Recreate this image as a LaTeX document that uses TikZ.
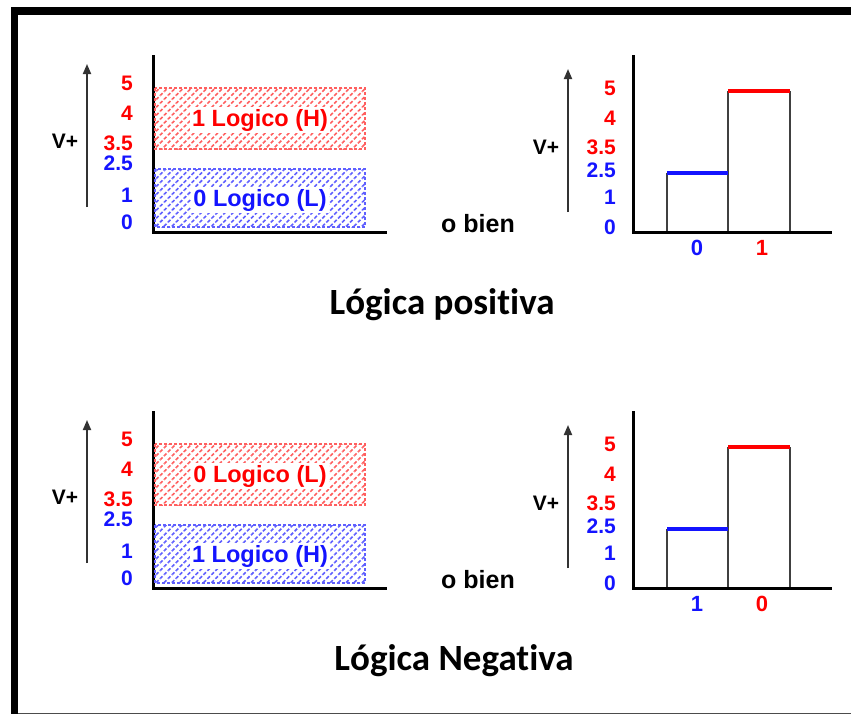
\documentclass[tikz,border=0pt]{standalone}
\usepackage{fontspec}
\setmainfont{Liberation Sans}
\newfontfamily\titlefont[Ligatures={NoCommon,NoRequired,NoContextual}]{Carlito}
\usetikzlibrary{patterns.meta,arrows.meta}
\definecolor{myred}{RGB}{255,0,0}
\definecolor{myblue}{RGB}{20,20,255}
\definecolor{hred}{RGB}{255,95,95}
\definecolor{hblue}{RGB}{95,95,255}
\tikzset{
  num/.style={anchor=east,font=\fontsize{21}{21}\selectfont\bfseries,inner sep=0pt},
  vlab/.style={font=\fontsize{21}{21}\selectfont\bfseries,inner sep=0pt},
  varrow/.style={line width=1.8pt,draw=black!80,-{Triangle[length=10pt,width=8pt]}},
  axis/.style={line width=3pt,draw=black},
  hatchred/.style={pattern={Lines[angle=45,distance=5.6pt,line width=1.6pt]},pattern color=hred,draw=hred,line width=1.3pt,dash pattern=on 3pt off 2pt},
  hatchblue/.style={pattern={Lines[angle=45,distance=5.6pt,line width=1.6pt]},pattern color=hblue,draw=hblue,line width=1.3pt,dash pattern=on 3pt off 2pt},
  boxlab/.style={fill=white,inner sep=2pt,font=\fontsize{23.5}{23.5}\selectfont\bfseries},
  bar/.style={line width=2pt,draw=black!75},
  lvl/.style={line width=4.5pt},
  obien/.style={font=\fontsize{25}{25}\selectfont\bfseries,inner sep=0pt},
  blab/.style={font=\fontsize{22}{22}\selectfont\bfseries,inner sep=0pt},
  title/.style={font=\titlefont\fontsize{37}{37}\selectfont\bfseries,inner sep=0pt}
}
\newcommand{\panel}[6]{%
  % #1 top box text, #2 bottom box text, #3 left bar label, #4 right bar label, #5 title, #6 title x
  \coordinate (la0) at (87,207); \coordinate (la1) at (87,64);
  \draw[varrow] (la0) -- (la1);
  \node[vlab] (lv) at (65,141) {V+};
  \node[num,text=myred] (l5) at (133,83) {5};
  \node[num,text=myred] (l4) at (133,113) {4};
  \node[num,text=myred] (l35) at (133,143) {3.5};
  \node[num,text=myblue] (l25) at (133,163) {2.5};
  \node[num,text=myblue] (l1) at (133,195) {1};
  \node[num,text=myblue] (l0) at (133,222) {0};
  \coordinate (lax0) at (153,55); \coordinate (lax1) at (153,232); \coordinate (lax2) at (387,232);
  \draw[axis] (lax0) -- (lax1) -- (lax2);
  \draw[hatchred] (155,88) rectangle (365,149);
  \draw[hatchblue] (155,169) rectangle (365,227);
  \node[boxlab,text=myred] (ltop) at (260,120) {#1};
  \node[boxlab,text=myblue] (lbot) at (260,200) {#2};
  \node[obien] (ob) at (478,224) {o bien};
  \coordinate (ra0) at (568,212); \coordinate (ra1) at (568,69);
  \draw[varrow] (ra0) -- (ra1);
  \node[vlab] (rv) at (546,147) {V+};
  \node[num,text=myred] (r5) at (616,88) {5};
  \node[num,text=myred] (r4) at (616,118) {4};
  \node[num,text=myred] (r35) at (616,147) {3.5};
  \node[num,text=myblue] (r25) at (616,170) {2.5};
  \node[num,text=myblue] (r1) at (616,197) {1};
  \node[num,text=myblue] (r0) at (616,227) {0};
  \coordinate (b1) at (667,232); \coordinate (b2) at (667,173); \coordinate (b3) at (728,173);
  \coordinate (b4) at (728,232); \coordinate (b5) at (728,91); \coordinate (b6) at (790,91);
  \coordinate (b7) at (790,232);
  \draw[bar] (b1) -- (b2) (b3) -- (b4) (b3) -- (b5) (b6) -- (b7);
  \draw[lvl,myblue] (b2) -- (b3);
  \draw[lvl,myred] (b5) -- (b6);
  \coordinate (rax0) at (633,55); \coordinate (rax1) at (633,232); \coordinate (rax2) at (832,232);
  \draw[axis] (rax0) -- (rax1) -- (rax2);
  \node[blab] (bl) at (697,248) {#3};
  \node[blab] (br) at (762,248) {#4};
  \node[title] (tt) at (#6,305) {#5};
}
\begin{document}
\begin{tikzpicture}[x=1pt,y=-1pt]
  \useasboundingbox (0,0) rectangle (851,715);
  \fill[white] (0,0) rectangle (851,715);
  \fill[black] (11,7) rectangle (851,15);
  \fill[black] (11,7) rectangle (18,714);
  \draw[black!70,line width=1pt] (18,713.5) -- (851,713.5);
  \begin{scope}[name prefix=t-]
    \panel{1 Logico (H)}{0 Logico (L)}{\textcolor{myblue}{0}}{\textcolor{myred}{1}}{Lógica positiva}{442}
  \end{scope}
  \begin{scope}[name prefix=b-,yshift=-356pt]
    \panel{0 Logico (L)}{1 Logico (H)}{\textcolor{myblue}{1}}{\textcolor{myred}{0}}{Lógica Negativa}{454}
  \end{scope}
\end{tikzpicture}
\end{document}
